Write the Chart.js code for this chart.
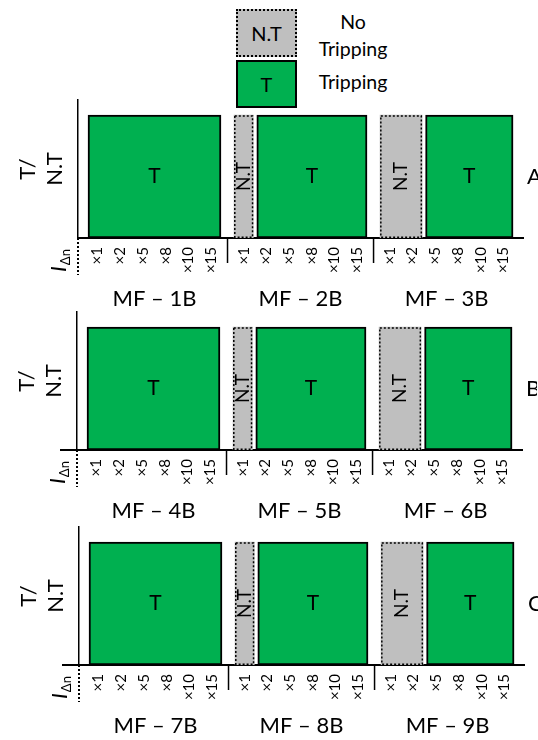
<!DOCTYPE html>
<html>
<head>
<meta charset="utf-8">
<script src="https://cdn.jsdelivr.net/npm/chart.js@4.4.1/dist/chart.umd.min.js"></script>
<style>
  html, body { margin: 0; padding: 0; background: #fff; }
  body { width: 538px; height: 740px; position: relative; overflow: hidden; font-family: Lato, sans-serif; color: #000; }
  canvas { position: absolute; }
  .key { position: absolute; left: 236px; width: 57px; height: 44px; text-align: center; line-height: 44px; font-size: 20px; }
  .key.nt { top: 9px; background: #bfbfbf; border: 2px dotted #000; }
  .key.t { top: 60px; background: #00b050; border: 2px solid #000; }
  .keytext { position: absolute; left: 302px; width: 102px; text-align: center; font-size: 19.5px; line-height: 27px; }
</style>
</head>
<body>
<div class="key nt">N.T</div>
<div class="key t">T</div>
<div class="keytext" style="top:8px">No<br>Tripping</div>
<div class="keytext" style="top:68px">Tripping</div>

<canvas id="rowA" width="538" height="222" style="left:0;top:92px"></canvas>
<canvas id="rowB" width="538" height="222" style="left:-1px;top:304px"></canvas>
<canvas id="rowC" width="538" height="222" style="left:1px;top:519px"></canvas>

<script>
// test levels of the residual current
const levels = ['×1', '×2', '×5', '×8', '×10', '×15'];

const groupsA = ['MF – 1B', 'MF – 2B', 'MF – 3B'];
const groupsB = ['MF – 4B', 'MF – 5B', 'MF – 6B'];
const groupsC = ['MF – 7B', 'MF – 8B', 'MF – 9B'];

// T = tripping, NT = no tripping (one entry per level)
const resultsA = [
  ['T', 'T', 'T', 'T', 'T', 'T'],
  ['NT', 'T', 'T', 'T', 'T', 'T'],
  ['NT', 'NT', 'T', 'T', 'T', 'T']
];
const resultsB = [
  ['T', 'T', 'T', 'T', 'T', 'T'],
  ['NT', 'T', 'T', 'T', 'T', 'T'],
  ['NT', 'NT', 'T', 'T', 'T', 'T']
];
const resultsC = [
  ['T', 'T', 'T', 'T', 'T', 'T'],
  ['NT', 'T', 'T', 'T', 'T', 'T'],
  ['NT', 'NT', 'T', 'T', 'T', 'T']
];

const statusText = { T: 'T', NT: 'N.T' };

const GREEN = '#00b050';
const GREY = '#bfbfbf';
const GROUP_GAP = 0.42;
const INSET = 0.077;
const BAR_TOP = 0.89;
const X_MIN = -0.863;
const X_MAX = 18.7;

function slot(g, i) {
  return g * (levels.length + GROUP_GAP) + i;
}

// neighbouring levels with the same result become one block
function blocks(results) {
  const out = [];
  results.forEach((row, g) => {
    let start = 0;
    for (let i = 1; i <= row.length; i++) {
      if (i === row.length || row[i] !== row[start]) {
        out.push({
          x: [slot(g, start) - 0.5 + INSET, slot(g, i - 1) + 0.5 - INSET],
          y: BAR_TOP / 2,
          status: row[start]
        });
        start = i;
      }
    }
  });
  return out;
}

const rowMarks = {
  id: 'rowMarks',
  afterDatasetsDraw(chart) {
    const ctx = chart.ctx;
    const data = chart.data.datasets[0].data;
    chart.getDatasetMeta(0).data.forEach((bar, i) => {
      const p = bar.getProps(['x', 'y', 'base', 'height'], true);
      const left = Math.min(p.x, p.base);
      const right = Math.max(p.x, p.base);
      const top = p.y - p.height / 2;
      ctx.save();
      if (data[i].status === 'NT') {
        ctx.strokeStyle = '#000';
        ctx.lineWidth = 1.5;
        ctx.setLineDash([2, 2]);
        ctx.strokeRect(left + 0.75, top + 0.75, right - left - 1.5, p.height - 1.5);
      }
      ctx.fillStyle = '#000';
      ctx.font = data[i].status === 'NT' ? '19px Lato' : '21px Lato';
      ctx.textAlign = 'center';
      ctx.textBaseline = 'middle';
      ctx.translate((left + right) / 2, p.y);
      if (data[i].status === 'NT') ctx.rotate(-Math.PI / 2);
      ctx.fillText(statusText[data[i].status], 0, 0);
      ctx.restore();
    });
  },
  afterDraw(chart, args, opts) {
    const ctx = chart.ctx;
    const area = chart.chartArea;
    const x = chart.scales.x;
    ctx.save();
    ctx.strokeStyle = '#000';

    // x axis stub left of the y axis
    if (opts.stub) {
      ctx.lineWidth = 2;
      ctx.beginPath();
      ctx.moveTo(area.left - opts.stub, area.bottom);
      ctx.lineTo(area.left, area.bottom);
      ctx.stroke();
    }

    // separators between the groups
    ctx.lineWidth = 1.5;
    for (let g = 1; g < opts.groups.length; g++) {
      const px = x.getPixelForValue((slot(g - 1, levels.length - 1) + slot(g, 0)) / 2);
      ctx.beginPath();
      ctx.moveTo(px, area.bottom);
      ctx.lineTo(px, area.bottom + 25);
      ctx.stroke();
    }

    // dotted line under the y axis
    ctx.lineWidth = 2;
    ctx.setLineDash([2, 2]);
    ctx.beginPath();
    ctx.moveTo(area.left, area.bottom);
    ctx.lineTo(area.left, area.bottom + 37);
    ctx.stroke();
    ctx.setLineDash([]);

    // row letter
    ctx.fillStyle = '#000';
    ctx.font = '22px Lato';
    ctx.textAlign = 'left';
    ctx.textBaseline = 'middle';
    ctx.fillText(opts.name, area.right + 4, chart.scales.y.getPixelForValue(BAR_TOP / 2));

    // I_Δn label
    ctx.translate(area.left - 12, area.bottom + 34);
    ctx.rotate(-Math.PI / 2);
    ctx.textBaseline = 'alphabetic';
    ctx.font = 'italic 22px Lato';
    ctx.fillText('I', 0, 0);
    const w = ctx.measureText('I').width;
    ctx.font = '13px Lato';
    ctx.fillText('Δn', w + 1, 4);
    ctx.restore();
  }
};

function makeRow(id, results, groups, name, stub) {
  const levelTicks = [];
  groups.forEach((_, g) => levels.forEach((_, i) => levelTicks.push(slot(g, i))));
  const groupTicks = groups.map((_, g) => slot(g, (levels.length - 1) / 2));

  new Chart(document.getElementById(id), {
    type: 'bar',
    data: {
      datasets: [{
        data: blocks(results),
        backgroundColor: c => c.raw.status === 'T' ? GREEN : GREY,
        borderColor: '#000',
        borderWidth: c => c.raw.status === 'T' ? 2 : 0,
        borderSkipped: false,
        barPercentage: 1,
        categoryPercentage: 1
      }]
    },
    options: {
      indexAxis: 'y',
      responsive: false,
      animation: false,
      devicePixelRatio: 1,
      layout: { padding: { top: 8, right: 15, left: 0, bottom: 0 } },
      plugins: {
        legend: { display: false },
        tooltip: { enabled: false },
        rowMarks: { name: name, groups: groups, stub: stub }
      },
      scales: {
        x: {
          type: 'linear',
          position: 'bottom',
          min: X_MIN,
          max: X_MAX,
          weight: 0,
          afterBuildTicks: s => { s.ticks = levelTicks.map(v => ({ value: v })); },
          afterFit: s => { s.height = 36; },
          ticks: {
            autoSkip: false,
            minRotation: 90,
            maxRotation: 90,
            padding: 9,
            color: '#000',
            font: { family: 'Lato', size: 15 },
            callback: (v, i) => levels[i % levels.length]
          },
          grid: { display: false, drawTicks: false },
          border: { color: '#000', width: 2 }
        },
        x2: {
          type: 'linear',
          position: 'bottom',
          min: X_MIN,
          max: X_MAX,
          weight: 1,
          afterBuildTicks: s => { s.ticks = groupTicks.map(v => ({ value: v })); },
          afterFit: s => { s.height = 40; },
          ticks: {
            autoSkip: false,
            maxRotation: 0,
            padding: 12,
            color: '#000',
            font: { family: 'Lato', size: 22 },
            callback: (v, i) => groups[i]
          },
          grid: { display: false, drawTicks: false },
          border: { display: false }
        },
        y: {
          type: 'linear',
          min: 0,
          max: 1,
          offset: false,
          // one bar-height apart, so each block fills 0..BAR_TOP
          afterBuildTicks: s => {
            s.ticks = [BAR_TOP / 2 - BAR_TOP, BAR_TOP / 2, BAR_TOP / 2 + BAR_TOP].map(v => ({ value: v }));
          },
          afterFit: s => { s.width = 78; },
          ticks: { display: false },
          grid: { display: false },
          border: { color: '#000', width: 1.5 },
          title: {
            display: true,
            text: ['T/', 'N.T'],
            color: '#000',
            font: { family: 'Lato', size: 22 },
            padding: { top: 15, bottom: 0 }
          }
        }
      }
    },
    plugins: [rowMarks]
  });
}

makeRow('rowA', resultsA, groupsA, 'A', 0);
makeRow('rowB', resultsB, groupsB, 'B', 17);
makeRow('rowC', resultsC, groupsC, 'C', 17);
</script>
</body>
</html>
